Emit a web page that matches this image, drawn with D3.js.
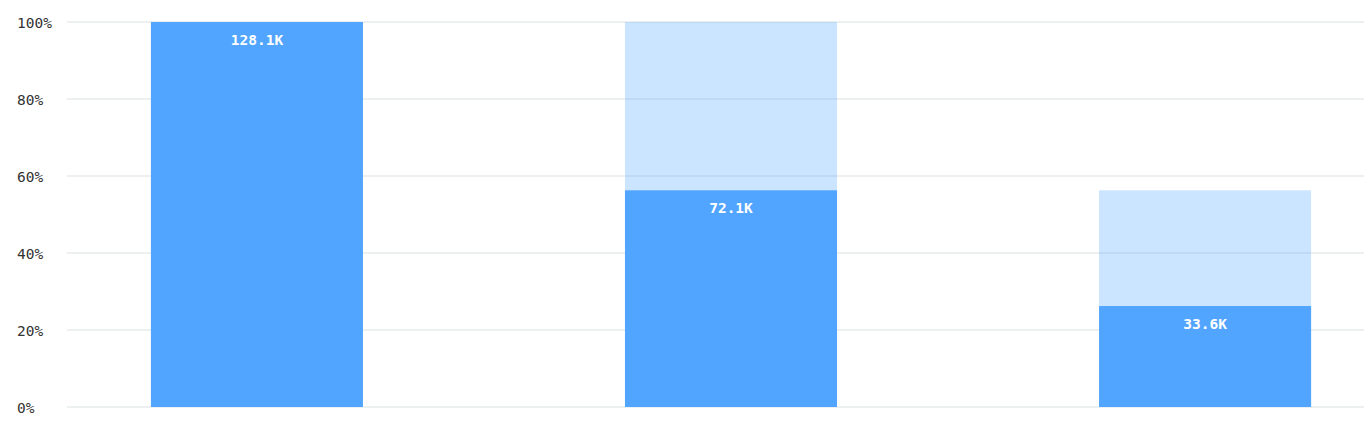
<!DOCTYPE html>
<html><head><meta charset="utf-8">
<script src="https://cdn.jsdelivr.net/npm/d3@7"></script>
<style>
html,body{margin:0;padding:0;background:#fff;}
svg{display:block;}
</style></head>
<body>
<svg id="chart" width="1364" height="423"></svg>
<script>
const steps = ["Step 1", "Step 2", "Step 3"];
const counts = [128100, 72100, 33600];
const countLabels = ["128.1K", "72.1K", "33.6K"];
const yTicks = [0, 0.2, 0.4, 0.6, 0.8, 1.0];

(function () {
const svg = d3.select("#chart");
const mLeft = 67, mRight = 1364, mTop = 22, mBottom = 407;

const x = d3.scaleBand().domain(steps).range([67, 1395]).paddingInner(0.5527).paddingOuter(0.177);
const y = d3.scaleLinear().domain([0, 1]).range([mBottom, mTop]);

const base = counts[0];
const pct = counts.map(c => c / base);
const prev = counts.map((c, i) => i === 0 ? c / base : counts[i - 1] / base);

// grid
svg.append("g").selectAll("line").data(yTicks).join("line")
  .attr("x1", mLeft).attr("x2", mRight)
  .attr("y1", d => y(d)).attr("y2", d => y(d))
  .attr("stroke", "#edf0f1").attr("stroke-width", 2);

// tick labels
svg.append("g").selectAll("text").data(yTicks).join("text")
  .attr("x", 17).attr("y", d => y(d) + 5.5)
  .attr("font-family", "'DejaVu Sans Mono', monospace")
  .attr("font-size", 14.5).attr("fill", "#333")
  .text(d => d3.format(".0%")(d));

// background (previous step) bars
svg.append("g").selectAll("rect").data(steps).join("rect")
  .attr("x", d => x(d)).attr("width", x.bandwidth())
  .attr("y", (d, i) => y(prev[i])).attr("height", (d, i) => mBottom - y(prev[i]))
  .attr("fill", "rgb(82,165,255)").attr("fill-opacity", (d, i) => i === 0 ? 0 : 0.3);

// main bars
svg.append("g").selectAll("rect").data(steps).join("rect")
  .attr("x", d => x(d)).attr("width", x.bandwidth())
  .attr("y", (d, i) => y(pct[i])).attr("height", (d, i) => mBottom - y(pct[i]))
  .attr("fill", "#52a5ff");

// value labels
svg.append("g").selectAll("text").data(steps).join("text")
  .attr("x", d => x(d) + x.bandwidth() / 2)
  .attr("y", (d, i) => y(pct[i]) + 23)
  .attr("text-anchor", "middle")
  .attr("font-family", "'DejaVu Sans Mono', monospace")
  .attr("font-weight", "bold")
  .attr("font-size", 14.5).attr("fill", "#fff")
  .text((d, i) => countLabels[i]);
})();
</script>
</body></html>
